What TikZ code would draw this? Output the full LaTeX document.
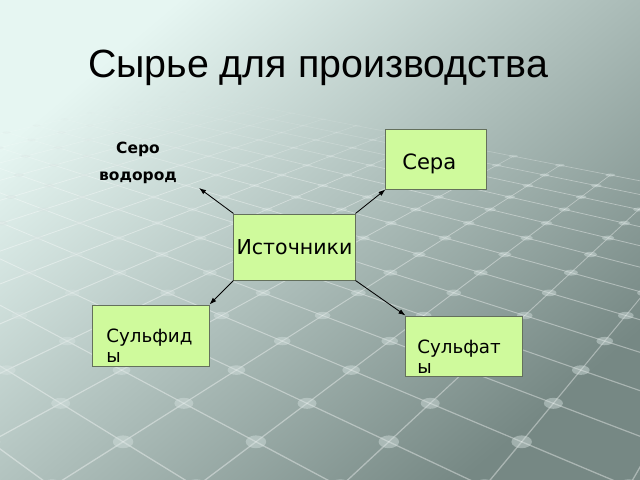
\documentclass[tikz,border=0pt]{standalone}
\usepackage{fontspec}
\setmainfont{DejaVu Sans}
\newfontfamily\titlefont{Liberation Sans}
\usetikzlibrary{arrows.meta}
\definecolor{bgtop}{RGB}{230,246,242}
\definecolor{bgmid}{RGB}{162,178,174}
\definecolor{bgbot}{RGB}{118,136,132}
\definecolor{boxfill}{RGB}{207,250,156}
\definecolor{boxline}{RGB}{100,112,92}
\definecolor{dotcol}{RGB}{214,226,224}
\begin{document}
\begin{tikzpicture}[x=0.025cm,y=-0.025cm,>={Latex[length=5pt,width=3.5pt]},
  box/.style={draw=boxline,fill=boxfill,line width=0.7pt,inner sep=0pt},
  boxtext/.style={inner sep=0pt,align=left},
  gridline/.style={white,line cap=round},
  griddot/.style={fill=dotcol}]
\useasboundingbox (0,0) rectangle (640,480);
\shade[top color=bgtop,middle color=bgmid,bottom color=bgbot,shading angle=40] (0,0) rectangle (640,480);

\begin{scope}
\clip (0,0) rectangle (640,480);
\foreach \i in {0,...,25}{
  \foreach \j in {0,...,25}{
    \ifnum\numexpr\i+\j\relax<26
      \pgfmathsetmacro\za{3.18-0.0843*(\i+\j)}
      \pgfmathsetmacro\zb{\za-0.0843}
      \pgfmathsetmacro\xa{112+845*(0.267+0.0843*(\i-\j))/\za}
      \pgfmathsetmacro\ya{-86+566/\za}
      \pgfmathsetmacro\xb{112+845*(0.267+0.0843*(\i-\j+1))/\zb}
      \pgfmathsetmacro\xc{112+845*(0.267+0.0843*(\i-\j-1))/\zb}
      \pgfmathsetmacro\yb{-86+566/\zb}
      \pgfmathsetmacro\fa{0.38*min(1,max(0,(\ya-88)/90))}
      \pgfmathsetmacro\lw{1/\za}
      \draw[gridline,opacity=\fa,line width=\lw pt] (\xa,\ya) -- (\xb,\yb) (\xa,\ya) -- (\xc,\yb);
    \fi
  }
}
\foreach \i in {0,...,26}{
  \foreach \j in {0,...,26}{
    \ifnum\numexpr\i+\j\relax<27
      \pgfmathsetmacro\za{3.18-0.0843*(\i+\j)}
      \pgfmathsetmacro\xa{112+845*(0.267+0.0843*(\i-\j))/\za}
      \pgfmathsetmacro\ya{-86+566/\za}
      \pgfmathsetmacro\fo{0.45*min(1,max(0,(\ya-88)/90))}
      \pgfmathsetmacro\rx{845*0.013/\za}
      \pgfmathsetmacro\ry{566*0.013/(\za*\za)}
      \fill[griddot,opacity=\fo] (\xa,\ya) ellipse [x radius=\rx, y radius=\ry];
    \fi
  }
}
\end{scope}

\node[font=\titlefont\fontsize{28}{34}\selectfont,anchor=base] (title) at (318,77) {Сырье для производства};
\node[font=\bfseries\fontsize{11}{19}\selectfont,align=center] (serovod) at (138,163) {Серо\\водород};
\coordinate (serovodend) at (199,188);

\node[box,minimum width=2.5cm,minimum height=1.5cm] (sera) at (436,159) {};
\node[boxtext,anchor=base west,font=\fontsize{15}{18}\selectfont] (seratxt) at (402,169) {Сера};
\node[box,minimum width=3.025cm,minimum height=1.65cm,font=\fontsize{14.6}{17}\selectfont] (src) at (294.5,247) {Источники};
\node[box,minimum width=2.9cm,minimum height=1.525cm] (sulfid) at (151,335.5) {};
\node[boxtext,anchor=north west,font=\fontsize{13}{14.5}\selectfont] (sulfidtxt) at (106,328.5) {Сульфид\\ы};
\node[box,minimum width=2.9cm,minimum height=1.5cm] (sulfat) at (464,346) {};
\node[boxtext,anchor=north west,font=\fontsize{13}{14.5}\selectfont] (sulfattxt) at (417,339.5) {Сульфат\\ы};

\draw[->,line width=0.6pt] (src.north west) -- (serovodend);
\draw[->,line width=0.6pt] (src.north east) -- (sera.south west);
\draw[->,line width=0.6pt] (src.south west) -- (sulfid.north east);
\draw[->,line width=0.6pt] (src.south east) -- (sulfat.north west);
\end{tikzpicture}
\end{document}
